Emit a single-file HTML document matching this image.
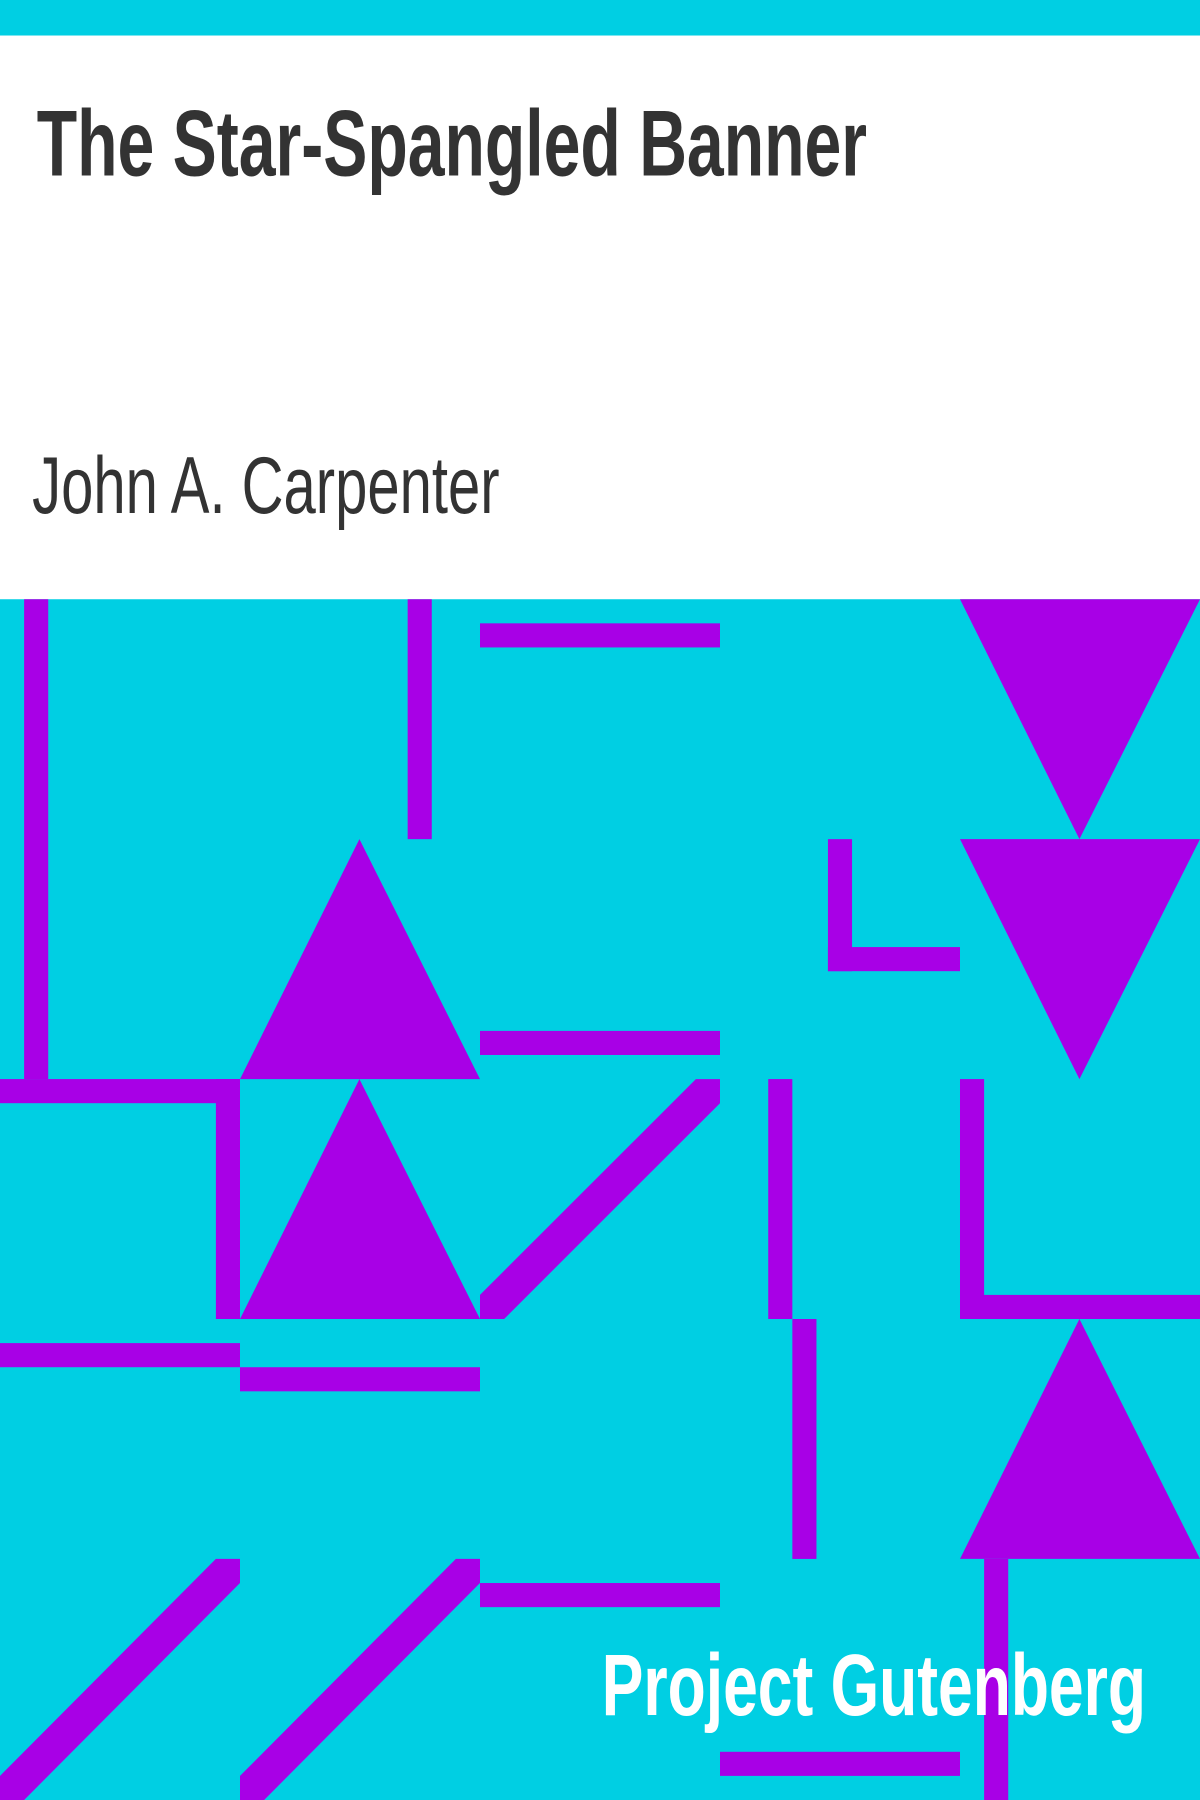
<!DOCTYPE html>
<html><head><meta charset="utf-8"><style>
html,body{margin:0;padding:0;width:1200px;height:1800px;overflow:hidden;background:#fff}
svg{display:block}
</style></head><body>
<svg width="1200" height="1800" viewBox="0 0 1045 1568" preserveAspectRatio="none" xmlns="http://www.w3.org/2000/svg">
<rect x="0" y="0" width="1045" height="31" fill="#00cfe3"/>
<rect x="0" y="31" width="1045" height="491" fill="#ffffff"/>
<text x="32" y="153" font-family="Liberation Sans, sans-serif" font-weight="bold" font-size="82" fill="#333333" textLength="723" lengthAdjust="spacingAndGlyphs">The Star-Spangled Banner</text>
<text x="28" y="447" font-family="Liberation Sans, sans-serif" font-size="70" fill="#333333" textLength="407" lengthAdjust="spacingAndGlyphs">John A. Carpenter</text>
<g>
<rect x="0" y="522" width="1045" height="1046" fill="#00cfe3"/>
<g fill="#a800e6">
<rect x="21" y="522" width="21" height="418"/>
<rect x="0" y="940" width="209" height="21"/>
<rect x="188" y="940" width="21" height="209"/>
<rect x="355" y="522" width="21" height="209"/>
<rect x="418" y="543" width="209" height="21"/>
<polygon points="836,522 1045,522 940,731"/>
<polygon points="836,731 1045,731 940,940"/>
<rect x="721" y="731" width="21" height="115"/>
<rect x="721" y="825" width="115" height="21"/>
<polygon points="209,940 418,940 313,731"/>
<rect x="418" y="898" width="209" height="21"/>
<polygon points="209,1149 418,1149 313,940"/>
<polygon points="606,940 627,940 627,961 439,1149 418,1149 418,1128"/>
<rect x="669" y="940" width="21" height="209"/>
<rect x="690" y="1149" width="21" height="209"/>
<rect x="836" y="940" width="21" height="209"/>
<rect x="836" y="1128" width="209" height="21"/>
<rect x="0" y="1170" width="209" height="21"/>
<rect x="209" y="1191" width="209" height="21"/>
<polygon points="836,1358 1045,1358 940,1149"/>
<rect x="857" y="1358" width="21" height="210"/>
<polygon points="188,1358 209,1358 209,1379 21,1568 0,1568 0,1547"/>
<polygon points="397,1358 418,1358 418,1379 230,1568 209,1568 209,1547"/>
<rect x="418" y="1379" width="209" height="21"/>
<rect x="627" y="1526" width="209" height="21"/>
</g>
</g>
<text x="524" y="1494" font-family="Liberation Sans, sans-serif" font-weight="bold" font-size="76" fill="#ffffff" textLength="474" lengthAdjust="spacingAndGlyphs">Project Gutenberg</text>
</svg>
</body></html>
